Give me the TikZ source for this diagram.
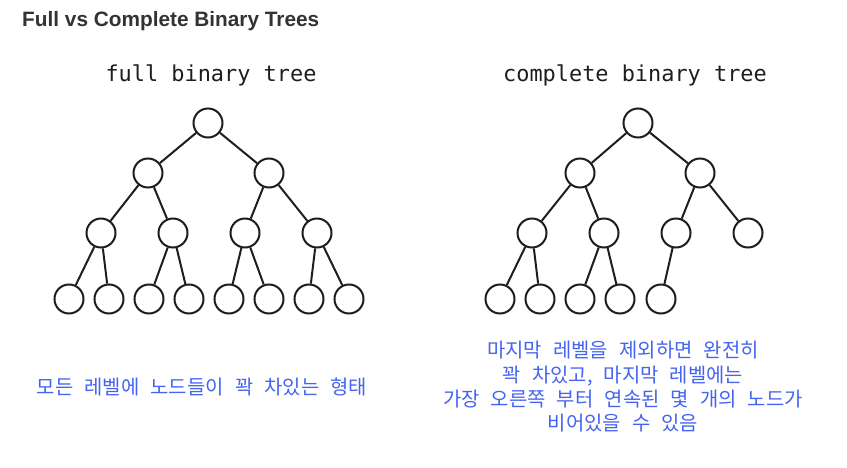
\documentclass[tikz,border=0pt]{standalone}
\usepackage{fontspec}
\setmainfont{Liberation Sans}
\newfontfamily\kr[WordSpace=2.5]{Noto Sans CJK KR}
\newfontfamily\mono{DejaVu Sans Mono}
\definecolor{titlegray}{HTML}{333333}
\definecolor{korblue}{HTML}{4564F0}
\definecolor{ink}{HTML}{1E1E1E}
\tikzset{
  tn/.style={circle, draw=ink, line width=2pt, minimum size=29pt, inner sep=0pt},
  edge/.style={draw=ink, line width=2pt},
  hd/.style={anchor=base, inner sep=0pt, font=\mono\fontsize{21.9}{24}\selectfont, text=ink},
  kt/.style={anchor=base, inner sep=0pt, font=\kr\fontsize{19.9}{24}\selectfont, text=korblue}
}
\begin{document}
\begin{tikzpicture}[x=1pt,y=-1pt]
\useasboundingbox (0,0) rectangle (847,468);
\fill[white] (0,0) rectangle (847,468);

\node[anchor=base west, inner sep=0pt, font=\fontsize{20.8}{24}\selectfont\bfseries, text=titlegray] (title) at (22,27) {Full vs Complete Binary Trees};

\node[hd] (h1) at (211,82) {full binary tree};
\node[hd] (h2) at (635,82) {complete binary tree};

% full binary tree
\node[tn] (a) at (208,123) {};
\node[tn] (b1) at (148,173) {};
\node[tn] (b2) at (269,173) {};
\node[tn] (c1) at (101,233) {};
\node[tn] (c2) at (173,233) {};
\node[tn] (c3) at (245,233) {};
\node[tn] (c4) at (317,233) {};
\node[tn] (d1) at (69,299) {};
\node[tn] (d2) at (109,299) {};
\node[tn] (d3) at (149,299) {};
\node[tn] (d4) at (189,299) {};
\node[tn] (d5) at (229,299) {};
\node[tn] (d6) at (269,299) {};
\node[tn] (d7) at (309,299) {};
\node[tn] (d8) at (349,299) {};
\draw[edge] (a) -- (b1);
\draw[edge] (a) -- (b2);
\draw[edge] (b1) -- (c1);
\draw[edge] (b1) -- (c2);
\draw[edge] (b2) -- (c3);
\draw[edge] (b2) -- (c4);
\draw[edge] (c1) -- (d1);
\draw[edge] (c1) -- (d2);
\draw[edge] (c2) -- (d3);
\draw[edge] (c2) -- (d4);
\draw[edge] (c3) -- (d5);
\draw[edge] (c3) -- (d6);
\draw[edge] (c4) -- (d7);
\draw[edge] (c4) -- (d8);

% complete binary tree
\node[tn] (p) at (638,123) {};
\node[tn] (q1) at (580,173) {};
\node[tn] (q2) at (700,173) {};
\node[tn] (r1) at (532,233) {};
\node[tn] (r2) at (604,233) {};
\node[tn] (r3) at (676,233) {};
\node[tn] (r4) at (748,233) {};
\node[tn] (s1) at (500,299) {};
\node[tn] (s2) at (540,299) {};
\node[tn] (s3) at (580,299) {};
\node[tn] (s4) at (620,299) {};
\node[tn] (s5) at (661,299) {};
\draw[edge] (p) -- (q1);
\draw[edge] (p) -- (q2);
\draw[edge] (q1) -- (r1);
\draw[edge] (q1) -- (r2);
\draw[edge] (q2) -- (r3);
\draw[edge] (q2) -- (r4);
\draw[edge] (r1) -- (s1);
\draw[edge] (r1) -- (s2);
\draw[edge] (r2) -- (s3);
\draw[edge] (r2) -- (s4);
\draw[edge] (r3) -- (s5);

% captions
\node[kt] (capL) at (202,394) {모든 레벨에 노드들이 꽉 차있는 형태};
\node[kt] (capR1) at (623,357.5) {마지막 레벨을 제외하면 완전히};
\node[kt] (capR2) at (623,382) {꽉 차있고, 마지막 레벨에는};
\node[kt] (capR3) at (623,406) {가장 오른쪽 부터 연속된 몇 개의 노드가};
\node[kt] (capR4) at (623,430.5) {비어있을 수 있음};
\end{tikzpicture}
\end{document}
